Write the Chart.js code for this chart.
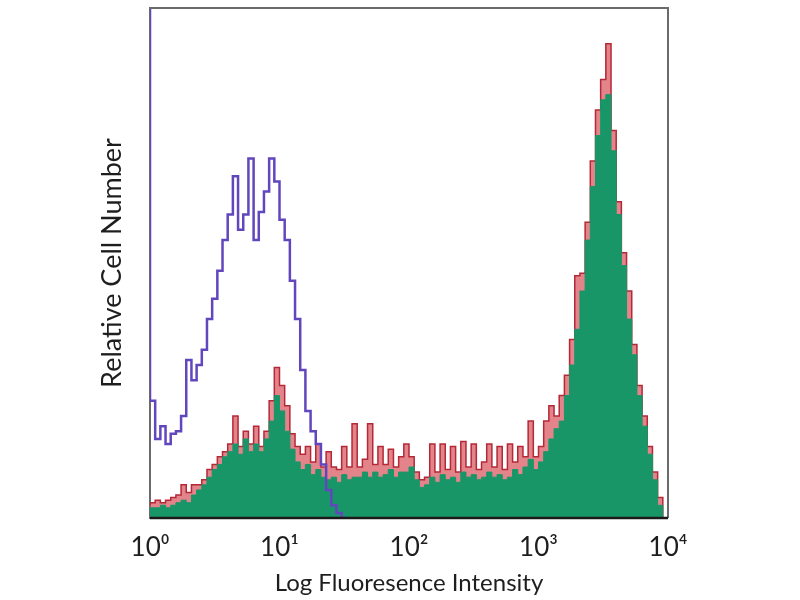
<!DOCTYPE html>
<html>
<head>
<meta charset="utf-8">
<script src="https://cdn.jsdelivr.net/npm/chart.js@4"></script>
<style>
  html, body { margin: 0; padding: 0; background: #fff; }
  #wrap { width: 800px; height: 600px; }
</style>
</head>
<body>
<div id="wrap"><canvas id="histChart" width="800" height="600"></canvas></div>
<script>
// 25 channels per decade, 4 decades (10^0 .. 10^4)
const BINS_PER_DECADE = 25;
const tickValues = [1, 10, 100, 1000, 10000];
const tickLabels = ['10\u2070', '10\u00B9', '10\u00B2', '10\u00B3', '10\u2074'];

// isotype control (purple outline)
const purpleCounts = [
  130, 23, 15.5, 18, 14.5, 16.5, 17, 20, 31, 27,
  30, 33, 39, 43, 48.5, 54.5, 59.5, 67, 56.5, 59.5,
  70.5, 54.5, 60, 64, 70.5, 66, 58.5, 54.5, 46.5, 39,
  29, 21, 17, 14.5, 10.5, 5.5, 2.5, 1
];

// stained sample (green fill)
const greenCounts = [
  1.5, 2, 2, 2.5, 2, 2.5, 3, 3.5, 3, 4.5,
  5.5, 6.5, 8, 9.5, 10.5, 12, 13, 14.5, 12.5, 15.5,
  13, 14.5, 13, 15.5, 19,
  24, 21, 17, 13.5, 11, 9.5, 10.5, 8.5, 9.5, 8,
  7.5, 8, 7, 8.5, 7.5, 8, 8, 9, 8, 9,
  8, 8.5, 9.5, 8, 9,
  9, 10, 7.5, 6, 6.5, 8, 7, 8.5, 7.5, 8,
  7, 9, 8, 8.5, 7.5, 8, 9, 8, 8.5, 7.5,
  8, 9.5, 8.5, 10, 11.5,
  9.5, 11, 13, 15.5, 17.5, 19, 24, 30, 37, 44.5,
  54.5, 65, 75, 82, 83, 72, 59.5, 49.5, 39, 32,
  24, 18, 12.5, 7.5, 2.5
];

// second stained sample (red, behind green)
const redCounts = [
  2.5, 3, 3.5, 3, 3.5, 4, 4.5, 6.5, 5, 6.5,
  6.5, 7.5, 9.5, 10.5, 12, 13, 14.5, 20, 14, 17,
  14.5, 18, 14, 17, 23,
  29.5, 26, 22, 16.5, 14, 12.5, 14, 11, 14.5, 10,
  13, 10, 9.5, 14, 10, 18.5, 10, 11.5, 18.5, 10.5,
  14, 10.5, 13.5, 10, 12,
  14.5, 12, 9, 7.5, 8, 14.5, 9, 14.5, 9.5, 14,
  9, 15, 10, 14.5, 9.5, 11, 14.5, 10, 14, 9.5,
  14.5, 11, 14, 12, 19,
  12, 14, 19, 22, 20, 24, 28, 35, 47.5, 48,
  58, 70, 80, 86, 93, 76, 62, 52, 44.5, 34,
  26, 20, 14, 9, 4
];

function toSteps(counts) {
  const pts = counts.map((c, i) => ({ x: Math.pow(10, i / BINS_PER_DECADE), y: c }));
  pts.push({ x: Math.pow(10, counts.length / BINS_PER_DECADE), y: 0 });
  return pts;
}

const frameBox = {
  id: 'frameBox',
  afterDatasetsDraw(chart) {
    const { ctx, chartArea: a } = chart;
    ctx.save();
    ctx.strokeStyle = '#6b6b6b';
    ctx.lineWidth = 2;
    ctx.beginPath();
    ctx.moveTo(a.left, a.top);
    ctx.lineTo(a.right, a.top);
    ctx.lineTo(a.right, a.bottom);
    ctx.stroke();
    ctx.strokeStyle = '#1a1a1a';
    ctx.lineWidth = 2.5;
    ctx.beginPath();
    ctx.moveTo(a.left, a.bottom);
    ctx.lineTo(a.right, a.bottom);
    ctx.stroke();
    ctx.restore();
  }
};

const ctx = document.getElementById('histChart').getContext('2d');
const histChart = new Chart(ctx, {
  type: 'line',
  data: {
    datasets: [
      {
        label: 'Isotype',
        data: toSteps(purpleCounts),
        stepped: 'after',
        borderColor: 'rgb(98, 70, 190)',
        borderWidth: 2.5,
        pointRadius: 0,
        fill: false,
        order: 0
      },
      {
        label: 'Stained',
        data: toSteps(greenCounts),
        stepped: 'after',
        borderColor: 'rgb(24, 150, 104)',
        backgroundColor: 'rgb(24, 150, 104)',
        borderWidth: 1,
        pointRadius: 0,
        fill: 'origin',
        order: 1
      },
      {
        label: 'Stained 2',
        data: toSteps(redCounts),
        stepped: 'after',
        borderColor: 'rgb(180, 40, 55)',
        backgroundColor: 'rgba(215, 80, 90, 0.7)',
        borderWidth: 1.5,
        pointRadius: 0,
        fill: 'origin',
        order: 2
      }
    ]
  },
  options: {
    responsive: false,
    animation: false,
    layout: { padding: { top: 8, right: 132, left: 0, bottom: 0 } },
    plugins: {
      legend: { display: false },
      tooltip: { enabled: false }
    },
    scales: {
      x: {
        type: 'logarithmic',
        min: 1,
        max: 10000,
        grid: { display: false, drawTicks: false },
        border: { display: false },
        afterBuildTicks: (scale) => {
          scale.ticks = tickValues.map(v => ({ value: v }));
        },
        afterFit: (scale) => { scale.height = 82; },
        ticks: {
          autoSkip: false,
          maxRotation: 0,
          padding: 14,
          color: '#1e1e1e',
          font: { family: 'Lato', size: 26 },
          callback: (value) => {
            const i = tickValues.indexOf(value);
            return i >= 0 ? tickLabels[i] : '';
          }
        },
        title: {
          display: true,
          text: 'Log Fluoresence Intensity',
          color: '#1e1e1e',
          font: { family: 'Lato', size: 24 },
          padding: { top: 0, bottom: 2 }
        }
      },
      y: {
        min: 0,
        max: 100,
        grid: { display: false, drawTicks: false },
        border: { display: true, color: '#6b6b6b', width: 2 },
        ticks: { display: false },
        afterFit: (scale) => { scale.width = 150; },
        title: {
          display: true,
          text: 'Relative Cell Number',
          color: '#1e1e1e',
          font: { family: 'Lato', size: 27 },
          padding: { top: 96, bottom: 0 }
        }
      }
    }
  },
  plugins: [frameBox]
});
</script>
</body>
</html>
